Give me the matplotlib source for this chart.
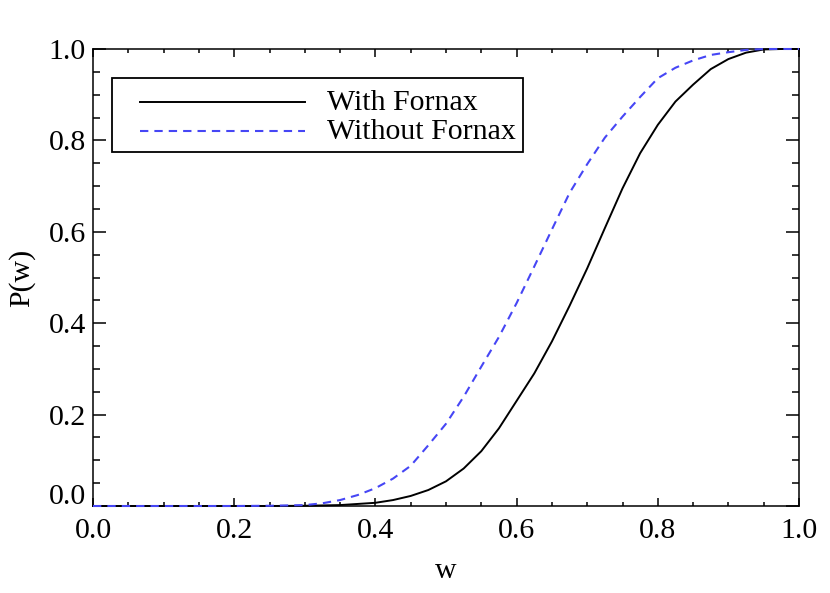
import matplotlib
matplotlib.use('Agg')
import matplotlib.pyplot as plt
from matplotlib.patches import Rectangle
from matplotlib.lines import Line2D
from matplotlib.ticker import MultipleLocator

plt.rcParams['font.family'] = ['Liberation Serif', 'DejaVu Serif']

# values
w_with = [0.0, 0.25, 0.30, 0.35, 0.40, 0.425, 0.45, 0.475, 0.50, 0.525, 0.55, 0.575,
          0.60, 0.625, 0.65, 0.675, 0.70, 0.725, 0.75, 0.775, 0.80, 0.825, 0.85,
          0.875, 0.90, 0.925, 0.95, 0.975, 1.0]
p_with = [0.0, 0.0, 0.0005, 0.002, 0.007, 0.013, 0.022, 0.035, 0.054, 0.082, 0.12, 0.17,
          0.23, 0.29, 0.36, 0.438, 0.52, 0.608, 0.695, 0.772, 0.834, 0.885, 0.922,
          0.956, 0.978, 0.992, 0.999, 1.0, 1.0]

w_without = [0.0, 0.20, 0.25, 0.30, 0.325, 0.35, 0.375, 0.40, 0.425, 0.45, 0.475, 0.50,
             0.525, 0.55, 0.575, 0.60, 0.625, 0.65, 0.675, 0.70, 0.725, 0.75, 0.775,
             0.80, 0.825, 0.85, 0.875, 0.90, 0.925, 0.95, 1.0]
p_without = [0.0, 0.0, 0.0005, 0.002, 0.006, 0.013, 0.024, 0.039, 0.06, 0.088, 0.133, 0.18,
             0.239, 0.305, 0.37, 0.444, 0.524, 0.605, 0.685, 0.748, 0.806, 0.852, 0.895,
             0.936, 0.959, 0.975, 0.987, 0.993, 0.998, 1.0, 1.0]

labels = ['With Fornax', 'Without Fornax']
blue = '#4646f5'
fs = 21.5
dash = (0, (4, 2.9))

fig = plt.figure(figsize=(8.3, 5.93), dpi=100)
ax = fig.add_axes([93/830, 1-506/593, 706/830, 457/593])

ax.plot(w_with, p_with, color='black', lw=1.4, clip_on=False, zorder=3)
ax.plot(w_without, p_without, color=blue, lw=1.5, ls=dash, clip_on=False, zorder=3)

ax.set_xlim(0, 1)
ax.set_ylim(0, 1)
ax.xaxis.set_major_locator(MultipleLocator(0.2))
ax.xaxis.set_minor_locator(MultipleLocator(0.05))
ax.yaxis.set_major_locator(MultipleLocator(0.2))
ax.yaxis.set_minor_locator(MultipleLocator(0.05))
ax.xaxis.set_major_formatter(lambda v, p: '%.1f' % v)
# bottom y label is drawn a little higher below, like the original
ax.yaxis.set_major_formatter(lambda v, p: '' if abs(v) < 1e-9 else '%.1f' % v)

ax.tick_params(which='both', direction='in', top=True, right=True, labelsize=fs, width=1.1)
ax.tick_params(axis='x', which='major', length=6, pad=9)
ax.tick_params(axis='x', which='minor', length=2.7)
ax.tick_params(axis='y', which='major', length=9.7, pad=5)
ax.tick_params(axis='y', which='minor', length=5)
for s in ax.spines.values():
    s.set_linewidth(1.1)

ax.annotate('0.0', xy=(0, 0), xycoords='axes fraction', xytext=(-5, 6.5),
            textcoords='offset points', ha='right', va='center', fontsize=fs)

ax.set_xlabel('w', fontsize=fs, labelpad=10)
ax.set_ylabel('P(w)', fontsize=fs, labelpad=10)

# legend box
ax.add_patch(Rectangle((0.0269, 0.7746), 0.582, 0.162, transform=ax.transAxes,
                       fill=False, ec='black', lw=1.3, zorder=5))
ax.add_line(Line2D([0.0666, 0.3003], [0.884, 0.884], transform=ax.transAxes,
                   color='black', lw=1.4, zorder=5))
ax.add_line(Line2D([0.0666, 0.3003], [0.8206, 0.8206], transform=ax.transAxes,
                   color=blue, lw=1.5, ls=dash, zorder=5))
ax.text(0.3314, 0.8665, labels[0], transform=ax.transAxes, fontsize=fs, va='baseline')
ax.text(0.3314, 0.803, labels[1], transform=ax.transAxes, fontsize=fs, va='baseline')

fig.savefig('out.png', dpi=100)
